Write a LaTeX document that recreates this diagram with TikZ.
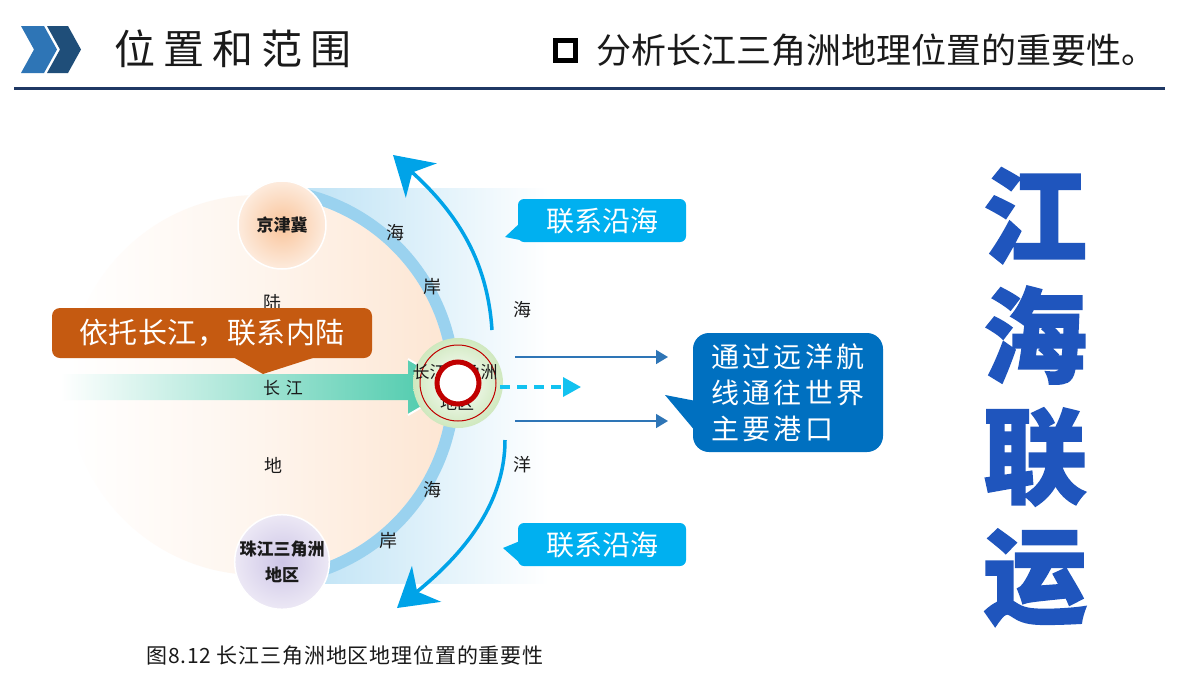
\documentclass[tikz,border=0pt]{standalone}
\usepackage{fontspec}
\setmainfont{Noto Sans CJK SC}
\usetikzlibrary{arrows.meta}
\definecolor{chevA}{HTML}{2E75B6}
\definecolor{chevB}{HTML}{1F4E79}
\definecolor{navy}{HTML}{1F3864}
\definecolor{land}{HTML}{FDE6D3}
\definecolor{seaL}{HTML}{BDE2F5}
\definecolor{coast}{HTML}{9AD2EF}
\definecolor{arcblue}{HTML}{00A3E8}
\definecolor{teal1}{HTML}{44C8A8}
\definecolor{orangebox}{HTML}{C55A11}
\definecolor{ringred}{HTML}{C00000}
\definecolor{halo}{HTML}{CFE8BE}
\definecolor{arrowblue}{HTML}{2E75B6}
\definecolor{dashcyan}{HTML}{12C2F0}
\definecolor{calloutblue}{HTML}{0070C0}
\definecolor{cyanbox}{HTML}{00B0F0}
\definecolor{bigblue}{HTML}{1F55BD}
\definecolor{jjjin}{HTML}{F9C49A}
\definecolor{jjjout}{HTML}{FDEBDD}
\definecolor{zjin}{HTML}{CDC5E6}
\definecolor{zjout}{HTML}{ECE8F5}
\definecolor{txt}{HTML}{1A1A1A}
\tikzset{
  lbl/.style={text=txt, font=\fontsize{18}{20}\selectfont, inner sep=0},
  arcarrow/.style={draw=arcblue, line width=3.5pt, -{Stealth[length=38pt,width=46pt,inset=12pt]}},
  thinarrow/.style={draw=arrowblue, line width=1.5pt, -{Triangle[length=12pt,width=14pt]}},
  cyancall/.style={fill=cyanbox, rounded corners=6pt, minimum width=168pt, minimum height=43pt, text=white, font=\fontsize{28}{30}\selectfont, inner sep=0},
  citycircle/.style={circle, minimum size=88pt, draw=white, line width=1.5pt, text=txt, font=\bfseries\fontsize{17}{26}\selectfont, align=center, inner sep=0}
}
\begin{document}
\begin{tikzpicture}[x=1pt,y=1pt]
\useasboundingbox (0,0) rectangle (1200,-675);
\fill[white] (0,0) rectangle (1200,-675);

% header
\fill[chevA] (21,-26) -- (44,-26) -- (57,-49.5) -- (44,-73) -- (21,-73) -- (34,-49.5) -- cycle;
\fill[chevB] (47,-26) -- (68,-26) -- (81,-49.5) -- (68,-73) -- (47,-73) -- (60,-49.5) -- cycle;
\node[anchor=west, inner sep=0, text=txt, font=\fontsize{41}{44}\selectfont\addfontfeature{LetterSpace=20}] (title) at (114,-49) {位置和范围};
\draw[line width=5pt, fill=white] (555.5,-40.5) rectangle (575.5,-60.5);
\node[anchor=west, inner sep=0, text=txt, font=\fontsize{35}{38}\selectfont] (sub) at (596,-50) {分析长江三角洲地理位置的重要性。};
\draw[navy, line width=3pt] (14,-88) -- (1165,-88);

% sea and land
\shade[left color=seaL, right color=white] (298,-188) rectangle (548,-583);
\shade[left color=white, right color=land, middle color=land!40] (258,-385) circle (190);
\draw[coast, line width=12pt] (258,-385) ++(80:196) arc (80:-80:196);

% city circles
\node[citycircle, inner color=jjjin, outer color=jjjout] (jjj) at (282,-225) {京津冀};
\node[citycircle, inner color=zjin, outer color=zjout] (zj) at (282,-562) {珠江三角洲\\地区};

% labels
\node[lbl] (hai1) at (395,-233) {海};
\node[lbl] (an1) at (432,-287) {岸};
\node[lbl] (hai2) at (522,-310) {海};
\node[lbl] (yang) at (522,-465) {洋};
\node[lbl] (hai3) at (432,-490) {海};
\node[lbl] (an2) at (388,-541) {岸};
\node[lbl] (lu) at (272,-303) {陆};
\node[lbl] (di) at (273,-465) {地};

% arc arrows
\coordinate (a1s) at (492,-330);
\coordinate (a1e) at (393,-155);
\coordinate (a2s) at (505,-440);
\coordinate (a2e) at (397,-608);
\draw[arcarrow] (a1s) .. controls (488,-270) and (465,-220) .. (a1e);
\draw[arcarrow] (a2s) .. controls (505,-505) and (462,-555) .. (a2e);

% green river arrow
\shade[left color=white, right color=teal1] (60,-374) -- (408,-374) -- (408,-359) -- (456,-387) -- (408,-415) -- (408,-400) -- (60,-400) -- cycle;
\draw[white, line width=2pt, line join=miter] (408,-359) -- (456,-387) -- (408,-415);
\node[lbl, font=\fontsize{17}{20}\selectfont] (cj) at (283,-388) {长\,\,江};

% orange callout
\node[fill=orangebox, rounded corners=8pt, minimum width=320pt, minimum height=50pt, text=white, inner sep=0, font=\fontsize{29}{30}\selectfont\addfontfeature{LetterSpace=2}] (ob) at (212,-333) {依托长江，联系内陆};
\fill[orangebox] (233,-357) -- (263,-374) -- (316,-357) -- cycle;

% center delta
\node[circle, minimum size=90pt, inner sep=0, inner color=white, outer color=halo] (delta) at (458,-383) {};
\draw[ringred, line width=1pt] (delta.center) circle (38);
\node[lbl, font=\fontsize{17}{20}\selectfont] (dt1) at (455,-372) {长江三角洲};
\node[lbl, font=\fontsize{17}{20}\selectfont] (dt2) at (457,-403) {地区};
\draw[ringred, line width=5pt, fill=white] (delta.center) circle (21);

% right arrows
\coordinate (r1s) at (515,-357);
\coordinate (r1e) at (668,-357);
\coordinate (r2s) at (515,-421);
\coordinate (r2e) at (668,-421);
\coordinate (dss) at (500,-387);
\coordinate (dse) at (581,-387);
\draw[thinarrow] (r1s) -- (r1e);
\draw[thinarrow] (r2s) -- (r2e);
\draw[dashcyan, line width=3.5pt, dash pattern=on 10pt off 7pt, -{Triangle[length=18pt,width=19pt]}] (dss) -- (dse);

% big blue callout
\node[fill=calloutblue, rounded corners=16pt, minimum width=190pt, minimum height=119pt, text=white, align=left, inner sep=0, font=\fontsize{28}{36}\selectfont\addfontfeature{LetterSpace=12}] (cb) at (788,-392.5) {通过远洋航\\线通往世界\\主要港口};
\fill[calloutblue] (696,-401) -- (665,-395) -- (696,-432) -- cycle;

% cyan callouts
\node[cyancall] (c1) at (602,-220.5) {联系沿海};
\fill[cyanbox] (520,-223) -- (505,-237) -- (520,-240) -- cycle;
\node[cyancall] (c2) at (602,-544.5) {联系沿海};
\fill[cyanbox] (520,-541) -- (503,-548) -- (520,-563) -- cycle;

% big vertical text
\node[text=bigblue, inner sep=0, align=center, font=\bfseries\fontsize{104}{120}\selectfont\addfontfeature{FakeBold=1.5}] (big) at (1035,-397) {江\\海\\联\\运};

% caption
\node[anchor=west, inner sep=0, text=txt, font=\fontsize{21}{22}\selectfont\addfontfeature{LetterSpace=4}] (cap) at (146,-656) {图8.12 长江三角洲地区地理位置的重要性};
\end{tikzpicture}
\end{document}
